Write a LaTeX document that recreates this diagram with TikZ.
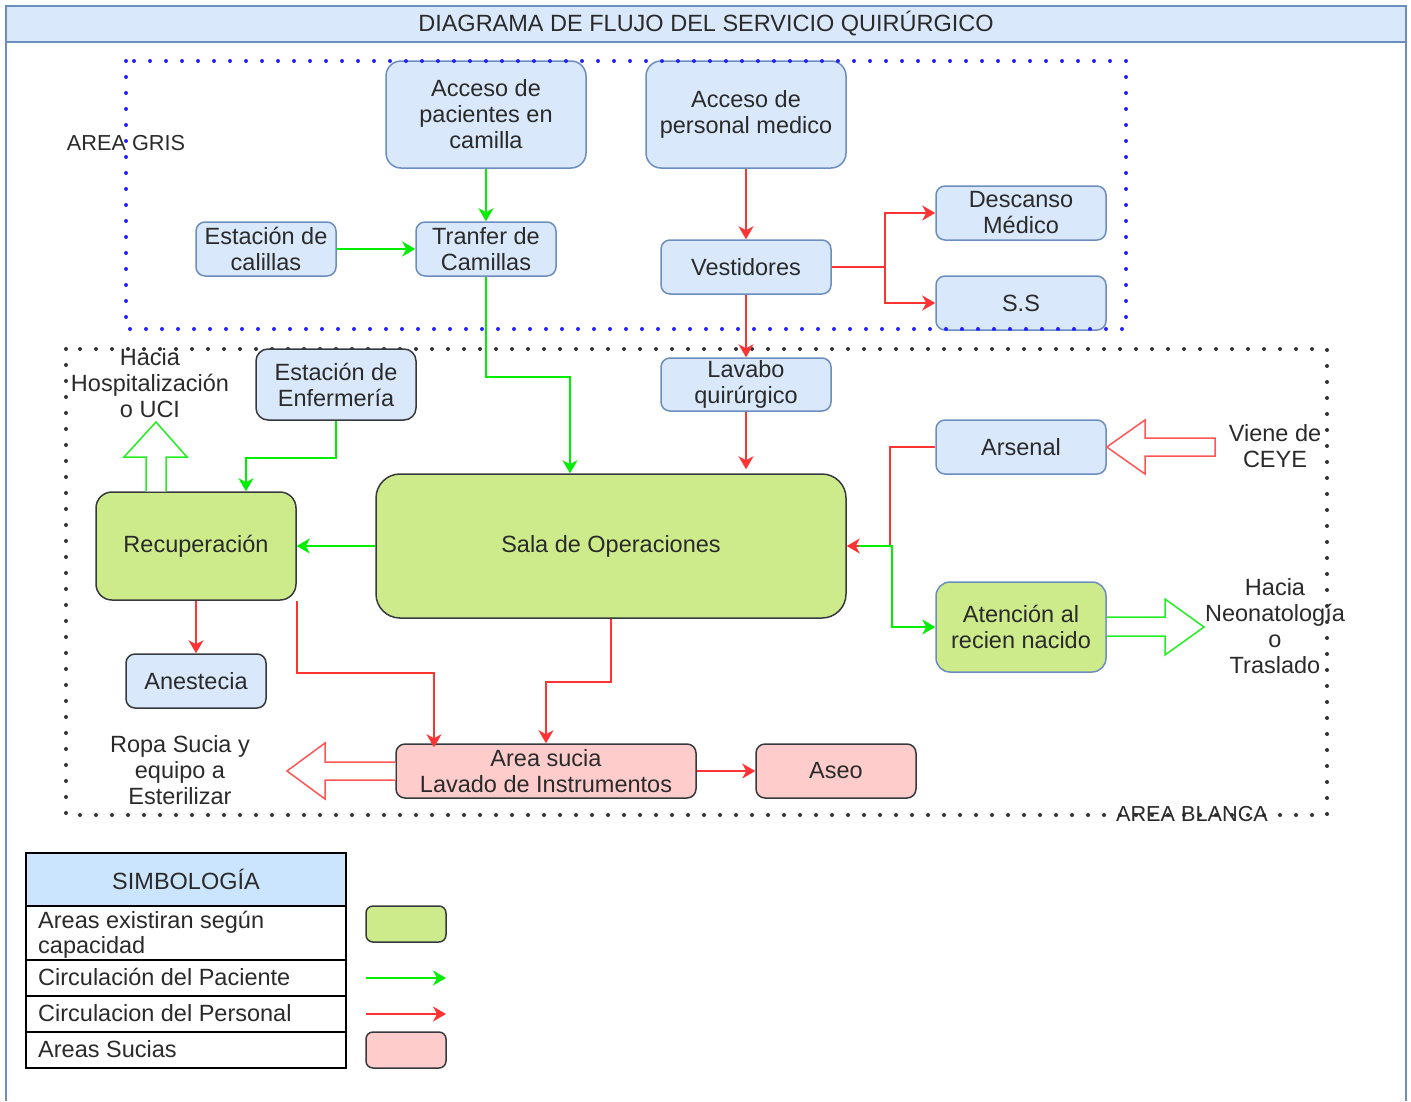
\documentclass[tikz,border=0pt]{standalone}
\usepackage{fontspec}
\setmainfont{Liberation Sans}
\usetikzlibrary{arrows.meta}
\definecolor{bfill}{HTML}{DAE8FC}
\definecolor{bline}{HTML}{6C8EBF}
\definecolor{gfill}{HTML}{CDEB8B}
\definecolor{pfill}{HTML}{FFCCCC}
\definecolor{dline}{HTML}{36393D}
\definecolor{txt}{HTML}{2A2A2A}
\definecolor{pg}{HTML}{00EE00}
\definecolor{pr}{HTML}{FF3333}
\definecolor{hr}{HTML}{FF5555}
\definecolor{hg}{HTML}{22EE22}
\definecolor{dotblue}{HTML}{2222FF}
\definecolor{legh}{HTML}{CCE5FF}
\tikzset{
  bx/.style={rectangle, rounded corners=9pt, line width=1.5pt, inner sep=0pt, align=center, text=txt},
  sz/.style 2 args={minimum width=#1pt, minimum height=#2pt},
  bluebox/.style={bx, fill=bfill, draw=bline},
  bluedark/.style={bx, fill=bfill, draw=dline},
  greenbox/.style={bx, fill=gfill, draw=dline},
  greenblue/.style={bx, fill=gfill, draw=bline},
  pinkbox/.style={bx, fill=pfill, draw=dline},
  lbl/.style={inner sep=0pt, align=center, text=txt},
  pa/.style={draw=pg, line width=1.6pt, -{Stealth[length=13pt,width=15pt,inset=4pt]}},
  pr/.style={draw=pr, line width=1.6pt, -{Stealth[length=13pt,width=15pt,inset=4pt]}},
  hollowr/.style={draw=hr, line width=1.5pt, fill=white, line join=miter},
  hollowg/.style={draw=hg, line width=1.5pt, fill=white, line join=miter},
  dotline/.style={line width=4pt, line cap=round, dash pattern=on 0pt off 16pt},
}
\begin{document}
\begin{tikzpicture}[x=1pt,y=-1pt,font=\fontsize{23.5}{26}\selectfont]
\useasboundingbox (0,0) rectangle (1411,1101);
% frame
\fill[bfill] (6,6) rectangle (1406,42);
\draw[bline, line width=2pt] (6,1101) -- (6,6) -- (1406,6) -- (1406,1101);
\draw[bline, line width=2pt] (6,42) -- (1406,42);
\node[lbl] (title) at (706,24) {DIAGRAMA DE FLUJO DEL SERVICIO QUIRÚRGICO};

% white area dotted
\draw[black!80, dotline] (66,349) rectangle (1327,815);

% nodes
\node[bluebox, sz={200}{107}, rounded corners=15pt] (accP) at (486,114.5) {Acceso de\\pacientes en\\camilla};
\node[bluebox, sz={200}{107}, rounded corners=15pt] (accM) at (746,114.5) {Acceso de\\personal medico};
\node[bluebox, sz={140}{54}] (calillas) at (266,249) {Estación de\\calillas};
\node[bluebox, sz={140}{54}] (tranfer) at (486,249) {Tranfer de\\Camillas};
\node[bluebox, sz={170}{54}] (vest) at (746,267) {Vestidores};
\node[bluebox, sz={170}{54}] (desc) at (1021,213) {Descanso\\Médico};
\node[bluebox, sz={170}{54}] (ss) at (1021,303) {S.S};
\node[bluebox, sz={170}{53}] (lavabo) at (746,384.5) {Lavabo\\quirúrgico};
\node[bluedark, sz={160}{71}, rounded corners=12pt] (enferm) at (336,384.5) {Estación de\\Enfermería};
\node[bluebox, sz={170}{54}] (arsenal) at (1021,447) {Arsenal};
\node[greenbox, sz={200}{108}, rounded corners=16pt] (recup) at (196,546) {Recuperación};
\node[greenbox, sz={470}{144}, rounded corners=24pt] (sala) at (611,546) {Sala de Operaciones};
\node[greenblue, sz={170}{90}, rounded corners=14pt] (aten) at (1021,627) {Atención al\\recien nacido};
\node[bluedark, sz={140}{54}] (anest) at (196,681) {Anestecia};
\node[pinkbox, sz={300}{54}] (sucia) at (546,771) {Area sucia\\Lavado de Instrumentos};
\node[pinkbox, sz={160}{54}] (aseo) at (836,771) {Aseo};

% gray area dotted
\draw[dotblue, dotline] (126,61) rectangle (1126,329);

% labels
\node[lbl, font=\fontsize{21.7}{26}\selectfont] (agris) at (126,143) {AREA GRIS};
\node[lbl, font=\fontsize{21.7}{26}\selectfont] (ablanca) at (1192,814) {AREA BLANCA};
\node[lbl] (hosp) at (150,383.5) {Hacia\\Hospitalización\\o UCI};
\node[lbl] (ceye) at (1275,446.5) {Viene de\\CEYE};
\node[lbl] (neo) at (1275,626.5) {Hacia\\Neonatología\\o\\Traslado};
\node[lbl] (ropa) at (180,770.5) {Ropa Sucia y\\equipo a\\Esterilizar};

% helper coordinates
\coordinate (xa) at (570,0);
\coordinate (xb) at (246,0);
\coordinate (xc) at (434,0);

% patient flow (green)
\draw[pa] (accP) -- (tranfer);
\draw[pa] (calillas) -- (tranfer);
\draw[pa] (tranfer.south) -- ++(0,100) -| (xa |- sala.north);
\draw[pa] (sala.west) -- (recup.east);
\draw[pa] (enferm.south) -- ++(0,37) -| (xb |- recup.north);

% personnel flow (red)
\draw[pr] (accM) -- (vest);
\draw[pr] (vest) -- (lavabo);
\draw[pr] (vest.east) -- ++(53,0) |- (desc.west);
\draw[pr] (vest.east) -- ++(53,0) |- (ss.west);
\draw[pr] (lavabo.south) -- ([yshift=4pt]lavabo.south |- sala.north);
\draw[pr] (arsenal.west) -- ++(-45,0) |- (sala.east);
\draw[pa, shorten <=12pt] (sala.east) -- ++(45,0) |- (aten.west);
\draw[pr] (recup.south) -- (anest.north);
\draw[pr] (recup.south east) -- ++(0,72) -| ([yshift=-4pt]xc |- sucia.north);
\draw[pr] (sala.south) -- ++(0,63) -| (sucia.north);
\draw[pr] (sucia) -- (aseo);

% hollow arrows
\draw[hollowg] (recup.north -| 146,0) -- (146,457) -- (124,457) -- (156,422) -- (187,457) -- (166,457) -- (recup.north -| 166,0);
\draw[hollowr] (sucia.west |- 0,762) -- (325,762) -- (325,743) -- (287,771) -- (325,799) -- (325,780) -- (sucia.west |- 0,780);
\draw[hollowr] (arsenal.east) -- (1145,420) -- (1145,438) -- (1215,438) -- (1215,456) -- (1145,456) -- (1145,474) -- cycle;
\draw[hollowg] (aten.east |- 0,617) -- (1165,617) -- (1165,599) -- (1204,627) -- (1165,655) -- (1165,636) -- (aten.east |- 0,636);

% legend
\draw[line width=1.5pt, fill=legh] (26,853) rectangle (346,906);
\draw[line width=1.5pt] (26,906) rectangle (346,960);
\draw[line width=1.5pt] (26,960) rectangle (346,996);
\draw[line width=1.5pt] (26,996) rectangle (346,1032);
\draw[line width=1.5pt] (26,1032) rectangle (346,1068);
\node[lbl] (lhead) at (186,879) {SIMBOLOGÍA};
\node[lbl, anchor=west, align=left, font=\fontsize{23.5}{25}\selectfont] (l1) at (38,935) {Areas existiran según\\capacidad};
\node[lbl, anchor=west] (l2) at (38,977) {Circulación del Paciente};
\node[lbl, anchor=west] (l3) at (38,1013) {Circulacion del Personal};
\node[lbl, anchor=west] (l4) at (38,1049) {Areas Sucias};
\node[greenbox, sz={80}{36}, rounded corners=7pt] (lg) at (406,924) {};
\node[pinkbox, sz={80}{36}, rounded corners=7pt] (lp) at (406,1050) {};
\coordinate (ga) at (366,978);
\coordinate (gb) at (446,978);
\coordinate (ra) at (366,1014);
\coordinate (rb) at (446,1014);
\draw[pa] (ga) -- (gb);
\draw[pr] (ra) -- (rb);
\end{tikzpicture}
\end{document}
